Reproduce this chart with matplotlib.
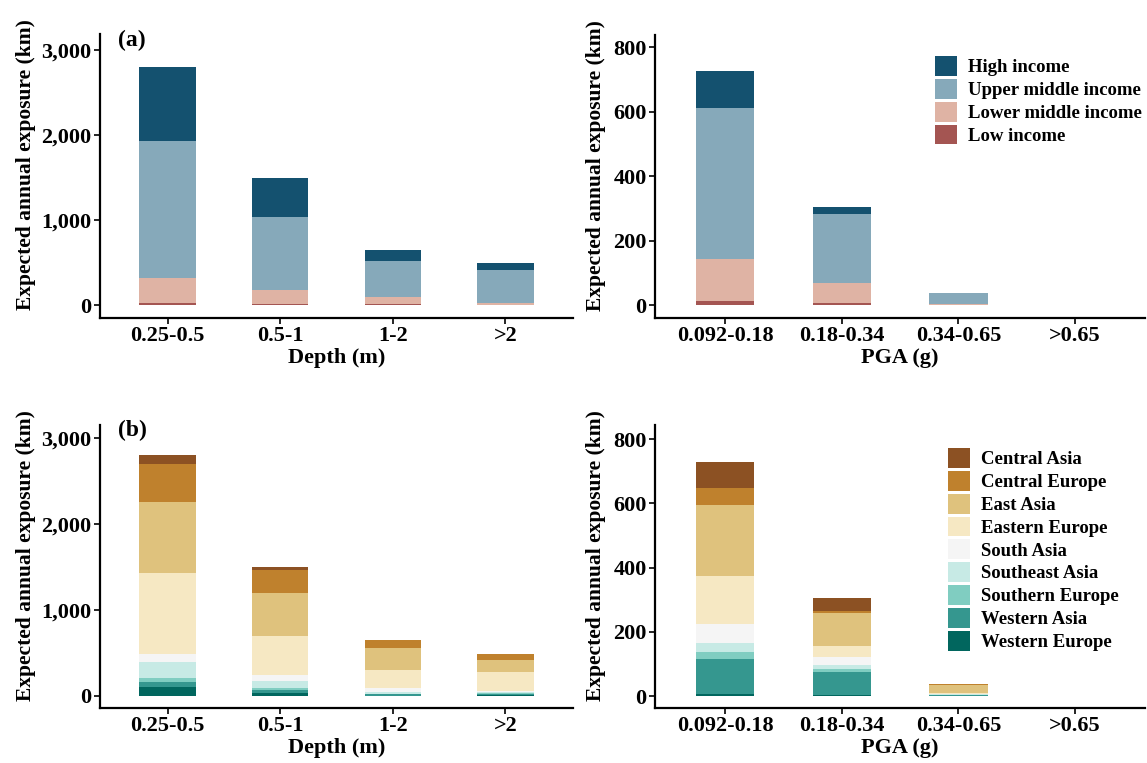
import numpy as np
import matplotlib
matplotlib.use("Agg")
import matplotlib.pyplot as plt
from matplotlib.ticker import FuncFormatter
from matplotlib.patches import Patch

plt.rcParams['font.family'] = ['Liberation Serif', 'DejaVu Serif']
plt.rcParams['font.weight'] = 'bold'

# data
depth_bins = ["0.25-0.5", "0.5-1", "1-2", ">2"]
pga_bins = ["0.092-0.18", "0.18-0.34", "0.34-0.65", ">0.65"]

income_names = ["High income", "Upper middle income", "Lower middle income", "Low income"]
income_colors = ["#14516F", "#86A9BA", "#DFB3A4", "#A45552"]

# flood (depth) by income
flood_low = [30, 20, 10, 5]
flood_lower_mid = [285, 155, 85, 25]
flood_upper_mid = [1615, 860, 420, 385]
flood_high = [870, 465, 140, 80]

# earthquake (PGA) by income
eq_low = [12, 8, 0.5, 0]
eq_lower_mid = [131, 60, 4, 0]
eq_upper_mid = [467, 215, 32, 0]
eq_high = [115, 22, 1, 0]

region_names = ["Central Asia", "Central Europe", "East Asia", "Eastern Europe", "South Asia",
                "Southeast Asia", "Southern Europe", "Western Asia", "Western Europe"]
region_colors = ["#8C5123", "#BF812D", "#DFC27D", "#F6E8C3", "#F5F5F5",
                 "#C7EAE5", "#80CDC1", "#35978F", "#01665E"]

# flood by region (same order as region_names)
flood_central_asia = [100, 35, 3, 5]
flood_central_europe = [444, 267, 90, 65]
flood_east_asia = [826, 500, 262, 140]
flood_eastern_europe = [942, 454, 210, 222]
flood_south_asia = [93, 70, 45, 15]
flood_southeast_asia = [186, 81, 15, 10]
flood_southern_europe = [46, 18, 10, 8]
flood_western_asia = [58, 35, 12, 15]
flood_western_europe = [105, 40, 5, 10]

# earthquake by region
eq_central_asia = [81, 40, 0, 0]
eq_central_europe = [53, 6, 3, 0]
eq_east_asia = [221, 103, 24, 0]
eq_eastern_europe = [150, 35, 2, 0]
eq_south_asia = [59, 24, 2, 0]
eq_southeast_asia = [28, 13, 1, 0]
eq_southern_europe = [22, 9, 1, 0]
eq_western_asia = [107, 73, 3.5, 0]
eq_western_europe = [8, 2, 0.5, 0]


def stacked(ax, cats, series, colors, xlabel, ylim, yticks, ylab_x):
    # series given top-down, draw bottom-up
    x = np.arange(len(cats))
    bottom = np.zeros(len(cats))
    for vals, col in zip(series[::-1], colors[::-1]):
        vals = np.array(vals, dtype=float)
        ax.bar(x, vals, width=0.5, bottom=bottom, color=col, linewidth=0)
        bottom = bottom + vals
    ax.set_xlim(-0.6, len(cats) - 0.4)
    ax.set_ylim(*ylim)
    ax.set_yticks(yticks)
    ax.yaxis.set_major_formatter(FuncFormatter(lambda v, p: "{:,.0f}".format(v)))
    ax.set_xticks(x)
    ax.set_xticklabels(cats)
    ax.set_xlabel(xlabel, fontsize=16, fontweight='bold', labelpad=1)
    ax.set_ylabel("Expected annual exposure (km)", fontsize=15.5, fontweight='bold')
    ax.yaxis.set_label_coords(ylab_x, 0.54)
    for s in ['top', 'right']:
        ax.spines[s].set_visible(False)
    for s in ['left', 'bottom']:
        ax.spines[s].set_linewidth(1.6)
    ax.tick_params(labelsize=16, width=1.2, length=4, pad=2)
    for lab in ax.get_xticklabels() + ax.get_yticklabels():
        lab.set_fontweight('bold')


W, H = 1147, 763
fig = plt.figure(figsize=(W / 100, H / 100), dpi=100)


def box(l, t, r, b):
    return [l / W, (H - b) / H, (r - l) / W, (b - t) / H]


ax1 = fig.add_axes(box(100, 34, 573, 318))
ax2 = fig.add_axes(box(655, 35, 1145, 318))
ax3 = fig.add_axes(box(100, 425, 573, 708))
ax4 = fig.add_axes(box(655, 425, 1145, 708))

left_lab = (36 - 100) / 473
right_lab = (606 - 655) / 490

stacked(ax1, depth_bins, [flood_high, flood_upper_mid, flood_lower_mid, flood_low],
        income_colors, "Depth (m)", (-150, 3190), [0, 1000, 2000, 3000], left_lab)
stacked(ax2, pga_bins, [eq_high, eq_upper_mid, eq_lower_mid, eq_low],
        income_colors, "PGA (g)", (-40, 838), [0, 200, 400, 600, 800], right_lab)

flood_regions = [flood_central_asia, flood_central_europe, flood_east_asia, flood_eastern_europe,
                 flood_south_asia, flood_southeast_asia, flood_southern_europe,
                 flood_western_asia, flood_western_europe]
eq_regions = [eq_central_asia, eq_central_europe, eq_east_asia, eq_eastern_europe,
              eq_south_asia, eq_southeast_asia, eq_southern_europe,
              eq_western_asia, eq_western_europe]
stacked(ax3, depth_bins, flood_regions, region_colors, "Depth (m)", (-140, 3150),
        [0, 1000, 2000, 3000], left_lab)
stacked(ax4, pga_bins, eq_regions, region_colors, "PGA (g)", (-37, 844),
        [0, 200, 400, 600, 800], right_lab)

# legends
h1 = [Patch(facecolor=c, edgecolor='none') for c in income_colors]
fig.legend(h1, income_names, loc='upper left', bbox_to_anchor=(935 / W, (H - 56) / H),
           frameon=False, prop={'weight': 'bold', 'size': 13.5}, borderpad=0, borderaxespad=0,
           handlelength=1.15, handleheight=1.25, labelspacing=0.14, handletextpad=0.6)
h2 = [Patch(facecolor=c, edgecolor='none') for c in region_colors]
fig.legend(h2, region_names, loc='upper left', bbox_to_anchor=(948 / W, (H - 448) / H),
           frameon=False, prop={'weight': 'bold', 'size': 13.5}, borderpad=0, borderaxespad=0,
           handlelength=1.15, handleheight=1.25, labelspacing=0.14, handletextpad=0.6)

fig.text(118 / W, (H - 40) / H, "(a)", fontsize=17, fontweight='bold', va='center', ha='left')
fig.text(118 / W, (H - 430) / H, "(b)", fontsize=17, fontweight='bold', va='center', ha='left')

fig.savefig("out.png", dpi=100)
